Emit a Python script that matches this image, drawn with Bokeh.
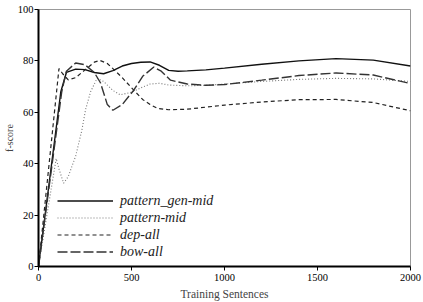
from bokeh.plotting import figure
from bokeh.models import Range1d, FixedTicker, Legend, LegendItem
from bokeh.embed import file_html
from bokeh.resources import INLINE

# ---- data ----
gen_x = [0, 120, 150, 200, 250, 300, 350, 400, 450, 500, 550, 600, 650, 700, 750, 800, 900, 1000, 1200, 1400, 1600, 1800, 2000]
gen_y = [0, 68, 75.5, 76.8, 76.6, 75.5, 75, 76.2, 78, 79, 79.5, 79.6, 78.3, 76.3, 76, 76.1, 76.5, 77.2, 78.7, 80, 80.9, 80.3, 78]

pm_x = [0, 95, 110, 135, 160, 200, 233, 253, 280, 315, 350, 400, 440, 500, 550, 600, 650, 700, 800, 900, 1000, 1200, 1400, 1600, 1800, 2000]
pm_y = [0, 42, 38, 32.4, 35, 43, 53, 61, 68, 73.2, 72, 68.5, 66.8, 67.8, 69.5, 71, 71.3, 70.6, 70.3, 70.5, 71, 72, 72.8, 73.2, 73, 72]

dep_x = [0, 110, 130, 160, 200, 250, 300, 330, 370, 400, 450, 512, 560, 600, 640, 700, 800, 900, 1000, 1200, 1400, 1600, 1800, 2000]
dep_y = [0, 77, 75, 72.6, 73.5, 76.5, 79.5, 80.2, 79, 77, 73.5, 68.6, 65, 63, 61.5, 61, 61.2, 62, 62.8, 64, 64.9, 65, 63.8, 60.6]

bow_x = [0, 125, 150, 200, 250, 300, 333, 370, 400, 450, 512, 560, 620, 660, 710, 800, 900, 1000, 1200, 1400, 1600, 1800, 2000]
bow_y = [0, 68, 76, 79.2, 78.5, 75.5, 71.5, 63, 60.8, 63, 68.6, 74, 77.6, 76, 72.5, 71, 70.5, 70.8, 72.5, 74.3, 75.3, 74.5, 71.2]

series_names = ["pattern_gen-mid", "pattern-mid", "dep-all", "bow-all"]
x_ticks = [0, 500, 1000, 1500, 2000]
y_ticks = [0, 20, 40, 60, 80, 100]

SERIF = "Liberation Serif"

p = figure(width=423, height=302, output_backend="svg", toolbar_location=None,
           x_range=Range1d(0, 2000), y_range=Range1d(0, 100),
           min_border_left=30, min_border_right=13, min_border_top=9, min_border_bottom=35)

p.xgrid.visible = False
p.ygrid.visible = False
p.outline_line_color = "#999999"
p.outline_line_width = 1
p.background_fill_color = "white"
p.border_fill_color = "white"

for ax in (p.xaxis[0], p.yaxis[0]):
    ax.axis_line_width = 2
    ax.axis_line_color = "black"
    ax.major_tick_out = 4
    ax.major_tick_in = 0
    ax.minor_tick_out = 0
    ax.minor_tick_in = 0
    ax.major_tick_line_color = "black"
    ax.major_label_text_font = SERIF
    ax.major_label_text_font_size = "10.5px"
    ax.major_label_text_color = "black"
    ax.major_label_standoff = 3

p.xaxis.ticker = FixedTicker(ticks=x_ticks)
p.yaxis.ticker = FixedTicker(ticks=y_ticks)
p.xaxis.axis_label = "Training Sentences"
p.xaxis.axis_label_text_font = SERIF
p.xaxis.axis_label_text_font_style = "normal"
p.xaxis.axis_label_text_font_size = "11.5px"
p.xaxis.axis_label_standoff = 4

p.yaxis.axis_label = "f-score"
p.yaxis.axis_label_text_font = SERIF
p.yaxis.axis_label_text_font_style = "normal"
p.yaxis.axis_label_text_font_size = "10px"
p.yaxis.axis_label_standoff = 0
p.yaxis.major_label_standoff = 1

r1 = p.line(gen_x, gen_y, line_color="#111111", line_width=1.4)
r2 = p.line(pm_x, pm_y, line_color="#777777", line_width=1.1, line_dash="1 2")
r3 = p.line(dep_x, dep_y, line_color="#222222", line_width=1.2, line_dash="4 3")
r4 = p.line(bow_x, bow_y, line_color="#333333", line_width=1.4, line_dash="10 3")

legend = Legend(items=[LegendItem(label=n, renderers=[r]) for n, r in zip(series_names, [r1, r2, r3, r4])],
                location=(19, 6), glyph_width=56, glyph_height=17, label_height=17,
                label_standoff=7, spacing=0, padding=0, margin=0,
                border_line_alpha=0, background_fill_alpha=0,
                label_text_font=SERIF, label_text_font_style="italic",
                label_text_font_size="14px", label_text_color="#222222")
p.add_layout(legend)

open("out.html", "w").write(file_html(p, INLINE))
